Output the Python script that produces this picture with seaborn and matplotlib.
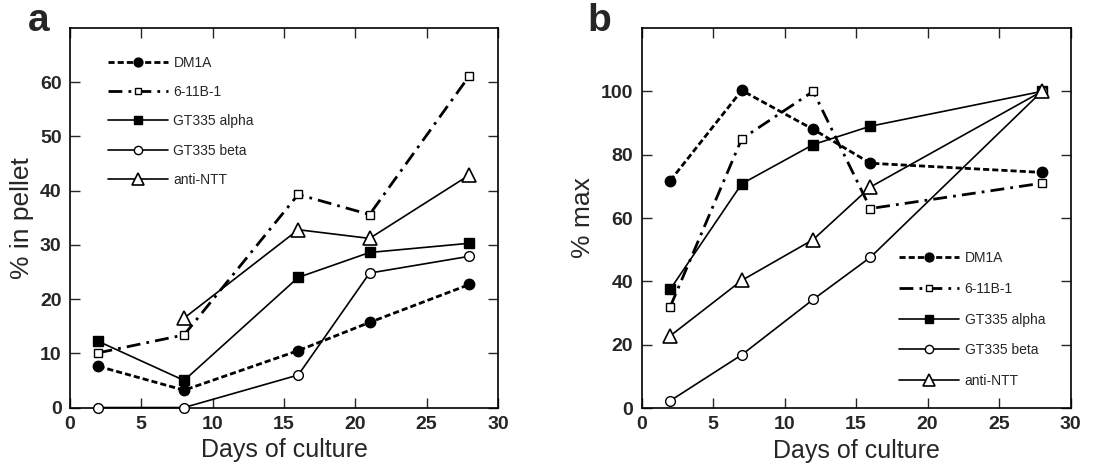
import numpy as np
import pandas as pd
import matplotlib
matplotlib.use("Agg")
import matplotlib.pyplot as plt
import seaborn as sns

# Data (panel a: % in pellet, panel b: % max)
days_a = [2, 8, 16, 21, 28]
dm1a_a = [7.6, 3.2, 10.5, 15.7, 22.7]
b611_a = [10.1, 13.4, 39.3, 35.6, 61.2]
alpha_a = [12.2, 5.0, 24.0, 28.6, 30.3]
beta_a = [0.0, 0.0, 6.0, 24.8, 27.9]
days_ntt_a = [8, 16, 21, 28]
ntt_a = [16.5, 32.8, 31.2, 42.9]

days_b = [2, 7, 12, 16, 28]
dm1a_b = [71.8, 100.3, 88.0, 77.3, 74.4]
b611_b = [32.0, 85.0, 100.0, 63.0, 71.0]
alpha_b = [37.5, 70.8, 83.2, 89.0, 100.0]
beta_b = [2.3, 16.8, 34.3, 47.6, 100.0]
ntt_b = [22.8, 40.3, 53.2, 69.8, 100.0]

labels = ["DM1A", "6-11B-1", "GT335 alpha", "GT335 beta", "anti-NTT"]

sns.set_style("ticks")
plt.rcParams['font.family'] = ['Liberation Sans', 'DejaVu Sans']

styles = {
    "DM1A": dict(linestyle=(0, (2.2, 1.1)), lw=2.0, marker="o", ms=7.5, mfc="black", mec="black", mew=1),
    "6-11B-1": dict(linestyle=(0, (5, 2.2, 1, 2.2)), lw=2.0, marker="s", ms=5.5, mfc="white", mec="black", mew=1),
    "GT335 alpha": dict(linestyle="-", lw=1.2, marker="s", ms=6.5, mfc="black", mec="black", mew=1),
    "GT335 beta": dict(linestyle="-", lw=1.2, marker="o", ms=7, mfc="white", mec="black", mew=1),
    "anti-NTT": dict(linestyle="-", lw=1.2, marker="^", ms=10, mfc="white", mec="black", mew=1.2),
}

fig = plt.figure(figsize=(11.14, 4.75), dpi=100)
ax_a = fig.add_axes([0.0628, 0.142, 0.3842, 0.799])
ax_b = fig.add_axes([0.576, 0.141, 0.385, 0.800])

series_a = [(days_a, dm1a_a), (days_a, b611_a), (days_a, alpha_a), (days_a, beta_a), (days_ntt_a, ntt_a)]
series_b = [(days_b, dm1a_b), (days_b, b611_b), (days_b, alpha_b), (days_b, beta_b), (days_b, ntt_b)]

for ax, series in [(ax_a, series_a), (ax_b, series_b)]:
    for lab, (x, y) in zip(labels, series):
        st = styles[lab]
        sns.lineplot(x=x, y=y, ax=ax, color="black", label=lab, linestyle=st["linestyle"],
                     linewidth=st["lw"], marker=st["marker"], markersize=st["ms"],
                     markerfacecolor=st["mfc"], markeredgecolor=st["mec"],
                     markeredgewidth=st["mew"], clip_on=False, zorder=3)

ax_a.set_xlim(0, 30)
ax_a.set_ylim(0, 70)
ax_a.set_yticks([0, 10, 20, 30, 40, 50, 60])
ax_a.set_ylabel("% in pellet", fontsize=19)

ax_b.set_xlim(0, 30)
ax_b.set_ylim(0, 120)
ax_b.set_yticks([0, 20, 40, 60, 80, 100])
ax_b.set_ylabel("% max", fontsize=19)

for ax in (ax_a, ax_b):
    ax.set_xticks([0, 5, 10, 15, 20, 25, 30])
    ax.set_xlabel("Days of culture", fontsize=18)
    ax.tick_params(direction="in", top=True, right=True, length=7, width=1, labelsize=14, pad=6)
    for t in ax.get_xticklabels() + ax.get_yticklabels():
        t.set_fontweight("bold")
    for s in ax.spines.values():
        s.set_linewidth(1.2)
        s.set_color("black")

ax_a.legend(loc="upper left", bbox_to_anchor=(0.06, 0.96), frameon=False, fontsize=10,
            handlelength=4.3, labelspacing=1.1, handletextpad=0.4, markerscale=0.85)
ax_b.legend(loc="lower right", bbox_to_anchor=(0.97, 0.02), frameon=False, fontsize=10,
            handlelength=4.3, labelspacing=1.2, handletextpad=0.4, markerscale=0.85)

fig.text(0.025, 0.955, "a", fontsize=28, fontweight="bold", va="center")
fig.text(0.527, 0.955, "b", fontsize=28, fontweight="bold", va="center")

fig.savefig("out.png", dpi=100)
